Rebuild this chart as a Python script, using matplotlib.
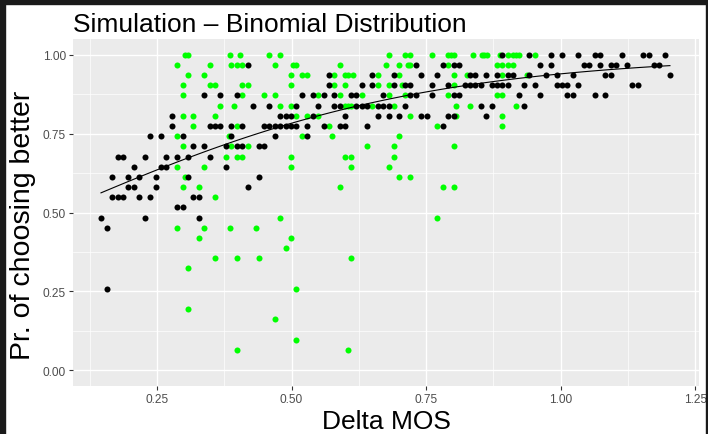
import matplotlib
matplotlib.use("Agg")
import matplotlib.pyplot as plt
import numpy as np
from matplotlib.patches import Rectangle
from matplotlib.ticker import MultipleLocator

plt.rcParams["font.family"] = ["Liberation Sans", "DejaVu Sans"]

TRIALS = 31

# simulated pairs: delta MOS and number of "better" picks out of TRIALS
black_x = [
    0.891, 0.941, 0.982, 1.003, 1.032, 1.064, 1.073, 1.114, 1.153, 1.164, 1.194,
    0.419, 0.731, 0.782, 0.802, 0.811, 0.962, 0.982, 1.044, 1.053, 1.073, 1.094, 1.103, 1.124, 1.174, 1.183,
    0.570, 0.650, 0.691, 0.741, 0.770, 0.832, 0.841, 0.862, 0.882, 0.902, 0.912, 0.941, 0.973, 0.993, 1.023,
    1.083, 1.094, 1.203,
    0.570, 0.631, 0.650, 0.691, 0.711, 0.720, 0.761, 0.791, 0.823, 0.832, 0.841, 0.852, 0.873, 0.882, 0.891,
    0.902, 0.932, 0.952, 0.993, 1.003, 1.012, 1.032, 1.133, 1.144,
    0.337, 0.367, 0.399, 0.520, 0.540, 0.560, 0.579, 0.611, 0.620, 0.670, 0.720, 0.731, 0.761, 0.802, 0.811,
    0.923, 0.962, 1.012, 1.023, 1.064, 1.083,
    0.428, 0.458, 0.508, 0.549, 0.579, 0.590, 0.620, 0.631, 0.640, 0.661, 0.670, 0.681, 0.711, 0.852, 0.873, 0.932,
    0.278, 0.479, 0.490, 0.499, 0.540, 0.599, 0.661, 0.681, 0.700, 0.741, 0.752, 0.791, 0.802, 0.862,
    0.278, 0.349, 0.358, 0.367, 0.388, 0.408, 0.449, 0.458, 0.469, 0.479, 0.490, 0.499, 0.508, 0.529, 0.560,
    0.590, 0.599, 0.640, 0.782,
    0.237, 0.257, 0.298, 0.388, 0.469, 0.529,
    0.317, 0.337, 0.378, 0.399, 0.408, 0.440, 0.449,
    0.178, 0.187, 0.228, 0.267, 0.287, 0.308, 0.349,
    0.207, 0.257, 0.267, 0.378,
    0.166, 0.196, 0.217, 0.248, 0.308, 0.440,
    0.196, 0.207, 0.248, 0.419,
    0.166, 0.178, 0.187, 0.217, 0.237, 0.317, 0.328,
    0.287, 0.298,
    0.146, 0.228, 0.328,
    0.157,
    0.157,
]
black_k = (
    [31] * 11 + [30] * 15 + [29] * 18 + [28] * 24 + [27] * 21 + [26] * 16 + [25] * 14
    + [24] * 19 + [23] * 6 + [22] * 7 + [21] * 7 + [20] * 4 + [19] * 6 + [18] * 4
    + [17] * 7 + [16] * 2 + [15] * 3 + [14] * 1 + [8] * 1
)

green_x = [
    0.302, 0.308, 0.386, 0.404, 0.458, 0.479, 0.681, 0.711, 0.720, 0.761, 0.791, 0.796, 0.802, 0.838, 0.854,
    0.858, 0.863, 0.888, 0.902, 0.912, 0.917, 0.923, 0.952,
    0.287, 0.349, 0.388, 0.399, 0.408, 0.469, 0.503, 0.508, 0.590, 0.676, 0.700, 0.717, 0.720, 0.791, 0.882,
    0.891, 0.902, 0.912,
    0.308, 0.337, 0.499, 0.520, 0.529, 0.579, 0.599, 0.605, 0.614, 0.661, 0.700, 0.802, 0.826, 0.891, 0.938,
    0.298, 0.349, 0.358, 0.408, 0.419, 0.499, 0.579, 0.599, 0.661, 0.681, 0.705, 0.802,
    0.298, 0.408, 0.449, 0.469, 0.549, 0.590, 0.631, 0.681, 0.711, 0.791, 0.882, 0.891,
    0.367, 0.393, 0.479, 0.499, 0.599, 0.605, 0.611, 0.650, 0.691, 0.806, 0.832, 0.917,
    0.298, 0.317, 0.358, 0.508, 0.529, 0.549, 0.720, 0.806, 0.891,
    0.317, 0.399, 0.570, 0.770, 0.891,
    0.287, 0.384, 0.520, 0.575, 0.700,
    0.298, 0.388, 0.419, 0.640, 0.691, 0.802,
    0.378, 0.399, 0.408, 0.499, 0.599, 0.611, 0.691,
    0.287, 0.337, 0.499, 0.611, 0.681,
    0.302, 0.700, 0.720,
    0.298, 0.328, 0.590, 0.782, 0.802,
    0.358,
    0.479, 0.770,
    0.287, 0.337, 0.386, 0.434,
    0.328, 0.499,
    0.490,
    0.358, 0.399, 0.440, 0.611,
    0.308,
    0.508,
    0.308,
    0.469,
    0.508,
    0.399, 0.605,
]
green_k = (
    [31] * 23 + [30] * 18 + [29] * 15 + [28] * 12 + [27] * 12 + [26] * 12 + [25] * 9
    + [24] * 5 + [23] * 5 + [22] * 6 + [21] * 7 + [20] * 5 + [19] * 3 + [18] * 5
    + [17] * 1 + [15] * 2 + [14] * 4 + [13] * 2 + [12] * 1 + [11] * 4 + [10] * 1
    + [8] * 1 + [6] * 1 + [5] * 1 + [3] * 1 + [2] * 2
)

bx = np.array(black_x)
by = np.array(black_k) / TRIALS
gx = np.array(green_x)
gy = np.array(green_k) / TRIALS


def logistic_fit(x, p, n_iter=50):
    # binomial GLM (logit link) on proportions, plain IRLS
    X = np.column_stack([np.ones_like(x), x])
    beta = np.zeros(2)
    for _ in range(n_iter):
        eta = X @ beta
        mu = 1.0 / (1.0 + np.exp(-eta))
        w = mu * (1.0 - mu)
        z = eta + (p - mu) / w
        beta = np.linalg.solve(X.T @ (X * w[:, None]), X.T @ (w * z))
    return beta


b0, b1 = logistic_fit(bx, by)
xs = np.linspace(bx.min(), bx.max(), 100)
ys = 1.0 / (1.0 + np.exp(-(b0 + b1 * xs)))

W, H = 708, 435
fig = plt.figure(figsize=(W / 100, H / 100), dpi=100)
ax = fig.add_axes([73 / W, (H - 387) / H, 626 / W, 347 / H])

ax.set_facecolor("#EBEBEB")
for s in ax.spines.values():
    s.set_visible(False)

ax.scatter(gx, gy, s=19, color="#00FF00", linewidths=0, zorder=3)
ax.scatter(bx, by, s=19, color="black", linewidths=0, zorder=4)
ax.plot(xs, ys, color="black", lw=0.8, zorder=5)

ax.set_xlim(0.094, 1.257)
ax.set_ylim(-0.05, 1.05)
ax.set_xticks([0.25, 0.50, 0.75, 1.00, 1.25])
ax.set_xticklabels(["0.25", "0.50", "0.75", "1.00", "1.25"])
ax.set_yticks([0.0, 0.25, 0.5, 0.75, 1.0])
ax.set_yticklabels(["0.00", "0.25", "0.50", "0.75", "1.00"])
ax.xaxis.set_minor_locator(MultipleLocator(0.125))
ax.yaxis.set_minor_locator(MultipleLocator(0.125))
ax.grid(which="major", color="white", lw=1.0)
ax.grid(which="minor", color="white", lw=0.5)
ax.set_axisbelow(True)
ax.tick_params(which="major", length=3, width=0.8, color="#333333",
               labelcolor="#4D4D4D", labelsize=8.6, pad=2)
ax.tick_params(which="minor", length=0)

fig.text(73 / W, 1 - 31.5 / H, "Simulation – Binomial Distribution",
         fontsize=19, ha="left", va="baseline")
fig.text(386 / W, 1 - 429 / H, "Delta MOS", fontsize=19, ha="center", va="baseline")
fig.text(23 / W, 1 - 225 / H, "Pr. of choosing better", fontsize=20.5,
         rotation=90, ha="center", va="center")

# dark frame strips around the figure
dark = "#1A1A1A"
fig.patches.extend([
    Rectangle((0, 1 - 4.5 / H), 1, 4.5 / H, transform=fig.transFigure, color=dark, zorder=10),
    Rectangle((0, 0), 4.5 / W, 1, transform=fig.transFigure, color=dark, zorder=10),
    Rectangle((1 - 2 / W, 0), 2 / W, 1, transform=fig.transFigure, color=dark, zorder=10),
])

fig.savefig("out.png", dpi=100)
